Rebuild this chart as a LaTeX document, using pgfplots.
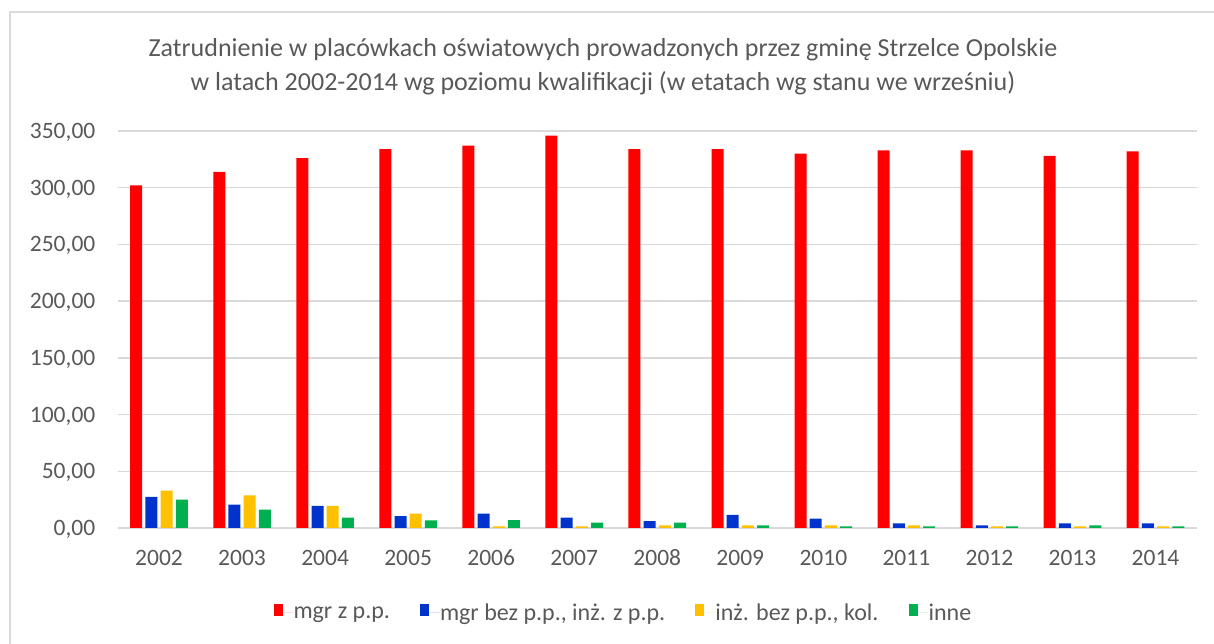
\documentclass[border=0pt]{standalone}
\usepackage{pgfplots}
\pgfplotsset{compat=1.18}
\usepackage{fontspec}
\setmainfont{Carlito}
\definecolor{txt}{HTML}{595959}
\definecolor{grd}{HTML}{D9D9D9}
\definecolor{cR}{HTML}{FF0000}
\definecolor{cB}{HTML}{0033CC}
\definecolor{cY}{HTML}{FFC000}
\definecolor{cG}{HTML}{00B050}
\begin{document}
\begin{tikzpicture}[x=1bp,y=1bp]
\path[use as bounding box] (0,0) rectangle (1214,644);
\draw[grd, line width=2bp] (10,0) -- (10,632) -- (1214,632);
\node[txt, align=center, font=\fontsize{26bp}{34bp}\selectfont] at (603,577)
  {Zatrudnienie w placówkach oświatowych prowadzonych przez gminę Strzelce Opolskie\\w latach 2002-2014 wg poziomu kwalifikacji (w etatach wg stanu we wrześniu)};
\begin{axis}[
  at={(117.5bp,116bp)}, anchor=south west,
  scale only axis, width=1079.5bp, height=397bp,
  ymin=0, ymax=350, xmin=-0.5, xmax=12.5,
  ytick={0,50,...,350},
  xtick={0,...,12},
  xticklabels={2002,2003,2004,2005,2006,2007,2008,2009,2010,2011,2012,2013,2014},
  ymajorgrids, grid style={grd, line width=1.5bp},
  axis line style={draw=none},
  major tick length=0pt,
  /pgf/number format/.cd, fixed, fixed zerofill, precision=2, use comma, assume math mode=true,
  /pgfplots/.cd,
  ticklabel style={txt, font=\fontsize{23.5bp}{28bp}\selectfont, inner sep=0pt},
  yticklabel style={anchor=base east, xshift=-22bp, yshift=-7.5bp},
  xticklabel style={anchor=base, yshift=-38bp},
  ybar=3.2bp, bar width=12bp,
  legend style={at={(155.8bp,-85bp)}, anchor=west, draw=none, fill=none, inner sep=0pt,
    nodes={inner sep=0pt, anchor=west},
    legend columns=4, font=\fontsize{24bp}{28bp}\selectfont, text=txt,
    /tikz/every even column/.append style={column sep=30bp}},
  legend image code/.code={\path (0bp,0bp) -- (20bp,0bp); \fill (0bp,-3bp) rectangle (9bp,9bp);},
  legend cell align=left,
  clip=false,
]
\draw[grd, line width=1.5bp] (axis cs:-0.5,0) -- (axis cs:12.5,0);
\addplot[fill=cR, draw=none] coordinates {(0,302) (1,314) (2,326) (3,334) (4,337) (5,346) (6,334) (7,334) (8,330) (9,333) (10,333) (11,328) (12,332)};
\addplot[fill=cB, draw=none] coordinates {(0,27.4) (1,20.7) (2,19.5) (3,10.4) (4,12.7) (5,9.2) (6,6.0) (7,11.5) (8,8.3) (9,4.0) (10,2.4) (11,4.0) (12,4.0)};
\addplot[fill=cY, draw=none] coordinates {(0,33.0) (1,28.7) (2,19.5) (3,12.7) (4,1.5) (5,1.5) (6,2.4) (7,2.4) (8,2.4) (9,2.4) (10,1.5) (11,1.5) (12,1.5)};
\addplot[fill=cG, draw=none] coordinates {(0,25.0) (1,16.3) (2,9.2) (3,6.8) (4,7.0) (5,4.8) (6,4.8) (7,2.4) (8,1.5) (9,1.5) (10,1.5) (11,2.4) (12,1.5)};
\legend{mgr z p.p., {mgr bez p.p., inż. z p.p.}, {inż. bez p.p., kol.}, inne}
\end{axis}
\end{tikzpicture}
\end{document}
